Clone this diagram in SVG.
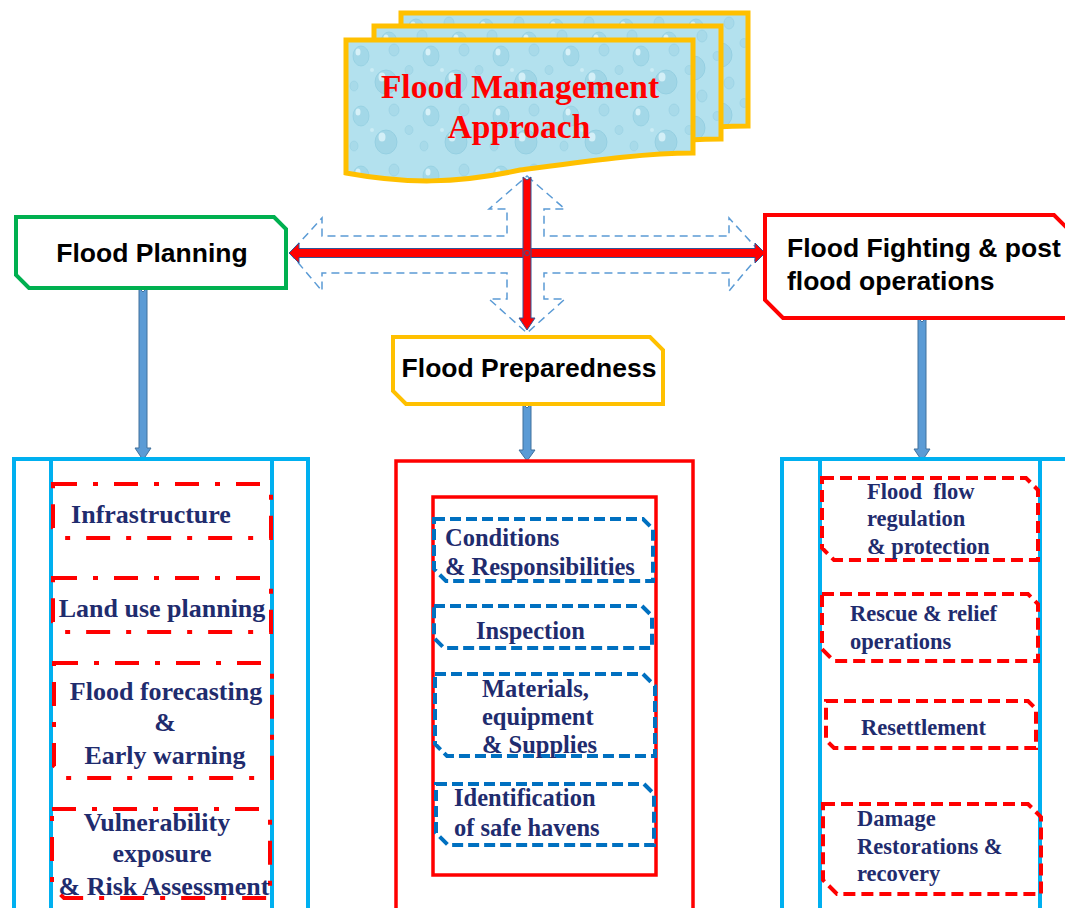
<svg xmlns="http://www.w3.org/2000/svg" width="1065" height="908" viewBox="0 0 1065 908">
<style>
.hdr{font-family:"Liberation Sans",Arial,sans-serif;font-weight:bold;font-size:26.5px;fill:#000}
.itm{font-family:"Liberation Serif","Times New Roman",serif;font-weight:bold;fill:#1F2C6E}
.l{font-size:26px}
.m{font-size:24.5px}
.r{font-size:22.5px}
.ttl{font-family:"Liberation Serif","Times New Roman",serif;font-weight:bold;font-size:33.5px;fill:#FF0000}
.dd{fill:none;stroke:#FF0000;stroke-width:4;stroke-dasharray:24 16 5 16}
.bd{fill:none;stroke:#0070C0;stroke-width:4;stroke-dasharray:11 5}
.rd{fill:none;stroke:#FF0000;stroke-width:4;stroke-dasharray:12 6}
.cy{fill:none;stroke:#00B0F0;stroke-width:4}
.conn{fill:#5B9BD5;stroke:#41719C;stroke-width:1}
.red{fill:#FF0000;stroke:#2F5597;stroke-width:1}
</style>
<defs>
<pattern id="drops" width="70" height="60" patternUnits="userSpaceOnUse">
<rect width="70" height="60" fill="#B3E1EE"/>
<ellipse cx="15" cy="16" rx="8" ry="10" fill="#A3D8E8" stroke="#93CFE1" stroke-width="0.8"/>
<ellipse cx="12" cy="12" rx="2.5" ry="3.5" fill="#D6F1F8"/>
<ellipse cx="48" cy="10" rx="5" ry="6" fill="#A8DAE9" stroke="#96D0E2" stroke-width="0.7"/>
<ellipse cx="40" cy="42" rx="11" ry="12" fill="#A1D6E6" stroke="#90CDE0" stroke-width="0.8"/>
<ellipse cx="36" cy="37" rx="3.5" ry="4.5" fill="#D3EFF7"/>
<ellipse cx="8" cy="46" rx="4" ry="5" fill="#A8DAE9" stroke="#96D0E2" stroke-width="0.6"/>
<ellipse cx="63" cy="30" rx="4" ry="4.5" fill="#A8DAE9" stroke="#96D0E2" stroke-width="0.6"/>
<circle cx="26" cy="30" r="2" fill="#CBECF5"/>
</pattern>
<path id="doc" d="M0,0 H347 V113 C300,113 250,120 174,130 C110,144 60,144 0,133 Z"/>
</defs>

<g id="title">
<use href="#doc" transform="translate(401,13)" fill="url(#drops)" stroke="#FFC000" stroke-width="5"/>
<use href="#doc" transform="translate(374,26)" fill="url(#drops)" stroke="#FFC000" stroke-width="5"/>
<use href="#doc" transform="translate(346,40)" fill="url(#drops)" stroke="#FFC000" stroke-width="5"/>
<text class="ttl" x="520" y="98" text-anchor="middle">Flood Management</text>
<text class="ttl" x="519" y="138" text-anchor="middle">Approach</text>
</g>

<g id="connectors">
<polygon points="527,176 565,209 544,209 544,236 729,236 729,218 761,253 729,291 729,273 544,273 544,299 565,299 527,333 489,299 507,299 507,273 322,273 322,291 290,253 322,218 322,236 507,236 507,209 489,209" fill="none" stroke="#5B9BD5" stroke-width="1.5" stroke-dasharray="8 5"/>
<polygon class="red" points="289,253 299,243 299,248.5 755,248.5 755,243 765,253 755,263 755,257.5 299,257.5 299,263"/>
<polygon class="red" points="523,177 527,180 531,177 531,318 535,318 527,330 519,318 523,318"/>
<circle cx="527" cy="253" r="2.5" fill="none" stroke="#2F5597" stroke-width="1"/>
<polygon class="conn" points="139,288 143,292 147,288 147,448 151,448 143,460 135,448 139,448"/>
<polygon class="conn" points="523,404 527,408 531,404 531,450 535,450 527,461 519,450 523,450"/>
<polygon class="conn" points="918,318 922,322 926,318 926,449 930,449 922,461 914,449 918,449"/>
</g>

<g id="flood-planning">
<path d="M16,217 H274 L286,229 V288 H29 L16,275 Z" fill="#fff" stroke="#00B050" stroke-width="4"/>
<text class="hdr" x="152" y="262" text-anchor="middle">Flood Planning</text>
</g>

<g id="flood-fighting">
<path d="M765,215 H1054 L1072,233 V318 H783 L765,300 Z" fill="#fff" stroke="#FF0000" stroke-width="4"/>
<text class="hdr" x="787" y="257">Flood Fighting &amp; post</text>
<text class="hdr" x="787" y="290">flood operations</text>
</g>

<g id="flood-preparedness">
<path d="M393,337 H650 L663,350 V404 H406 L393,391 Z" fill="#fff" stroke="#FFC000" stroke-width="4"/>
<text class="hdr" x="529" y="377" text-anchor="middle">Flood Preparedness</text>
</g>

<g id="planning-column">
<rect class="cy" x="14" y="459" width="294" height="460"/>
<line class="cy" x1="51" y1="459" x2="51" y2="910"/>
<line class="cy" x1="272" y1="459" x2="272" y2="910"/>
</g>
<g id="infrastructure">
<path class="dd" d="M53,484 H261 L271,494 V538 H63 L53,528 Z"/>
<text class="itm l" x="151" y="523" text-anchor="middle">Infrastructure</text>
</g>
<g id="land-use">
<path class="dd" d="M53,578 H261 L271,588 V632 H63 L53,622 Z"/>
<text class="itm l" x="162" y="617" text-anchor="middle">Land use planning</text>
</g>
<g id="forecasting">
<path class="dd" d="M54,663 H262 L272,673 V778 H66 L54,766 Z"/>
<text class="itm l" x="166" y="700" text-anchor="middle">Flood forecasting</text>
<text class="itm l" x="165" y="731" text-anchor="middle">&amp;</text>
<text class="itm l" x="165" y="764" text-anchor="middle">Early warning</text>
</g>
<g id="vulnerability">
<path class="dd" d="M52,809 H260 L270,819 V898 H64 L52,886 Z"/>
<text class="itm l" x="157" y="831" text-anchor="middle">Vulnerability</text>
<text class="itm l" x="162" y="862" text-anchor="middle">exposure</text>
<text class="itm l" x="164" y="895" text-anchor="middle">&amp; Risk Assessment</text>
</g>

<g id="preparedness-column">
<rect x="396" y="461" width="297" height="460" fill="none" stroke="#FF0000" stroke-width="3.5"/>
<rect x="433" y="497" width="223" height="378" fill="none" stroke="#FF0000" stroke-width="3.5"/>
</g>
<g id="conditions">
<path class="bd" d="M434,519 H643 L653,529 V581 H446 L434,569 Z"/>
<text class="itm m" x="445" y="546">Conditions</text>
<text class="itm m" x="445" y="575">&amp; Responsibilities</text>
</g>
<g id="inspection">
<path class="bd" d="M434,606 H642 L652,616 V648 H444 L434,638 Z"/>
<text class="itm m" x="476" y="639">Inspection</text>
</g>
<g id="materials">
<path class="bd" d="M435,674 H643 L655,686 V756 H447 L435,744 Z"/>
<text class="itm m" x="482" y="697">Materials,</text>
<text class="itm m" x="482" y="725">equipment</text>
<text class="itm m" x="482" y="753">&amp; Supplies</text>
</g>
<g id="safe-havens">
<path class="bd" d="M436,784 H644 L654,794 V845 H448 L436,833 Z"/>
<text class="itm m" x="454" y="806">Identification</text>
<text class="itm m" x="454" y="836">of safe havens</text>
</g>

<g id="fighting-column">
<rect class="cy" x="782" y="459" width="300" height="460"/>
<line class="cy" x1="820" y1="459" x2="820" y2="910"/>
<line class="cy" x1="1040" y1="459" x2="1040" y2="910"/>
</g>
<g id="flow-regulation">
<path class="rd" d="M822,478 H1026 L1038,490 V560 H834 L822,548 Z"/>
<text class="itm r" x="867" y="499" xml:space="preserve">Flood  flow</text>
<text class="itm r" x="867" y="526">regulation</text>
<text class="itm r" x="867" y="554">&amp; protection</text>
</g>
<g id="rescue">
<path class="rd" d="M822,594 H1028 L1038,604 V661 H834 L822,649 Z"/>
<text class="itm r" x="850" y="621">Rescue &amp; relief</text>
<text class="itm r" x="850" y="649">operations</text>
</g>
<g id="resettlement">
<path class="rd" d="M826,701 H1028 L1036,709 V748 H834 L826,740 Z"/>
<text class="itm r" x="861" y="735">Resettlement</text>
</g>
<g id="damage">
<path class="rd" d="M823,804 H1028 L1041,817 V894 H837 L823,880 Z"/>
<text class="itm r" x="857" y="826">Damage</text>
<text class="itm r" x="857" y="854">Restorations &amp;</text>
<text class="itm r" x="857" y="881">recovery</text>
</g>
</svg>
